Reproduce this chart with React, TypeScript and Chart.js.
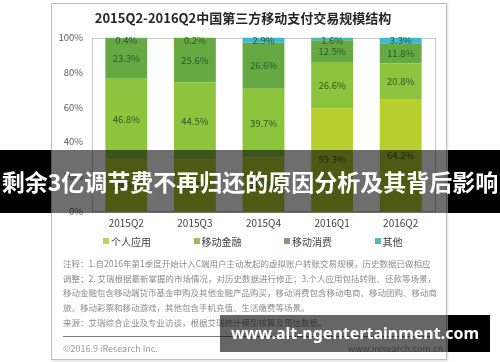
import React, { useEffect, useRef } from "react";
import { Chart, registerables } from "chart.js";

Chart.register(...registerables);

const title = "2015Q2-2016Q2中国第三方移动支付交易规模结构";
const categories = ["2015Q2", "2015Q3", "2015Q4", "2016Q1", "2016Q2"];
const seriesNames = ["个人应用", "移动金融", "移动消费", "其他"];
const personalApp = [29.5, 29.7, 30.8, 59.3, 64.2];
const mobileFinance = [46.8, 44.5, 39.7, 26.6, 20.8];
const mobileConsumption = [23.3, 25.6, 26.6, 12.5, 11.8];
const others = [0.4, 0.2, 2.9, 1.6, 3.3];
const yTicks = [0, 20, 40, 60, 80, 100];

const barColors = ["#b6cf2f", "#8cc43e", "#66a943", "#3fb8d6"];
const legendColors = ["#b7d062", "#9cbb5d", "#7f9d72", "#55b4c8"];
const LABEL_COLOR = "#2a5a2a";
const CJK = "'Noto Sans CJK SC', 'Noto Sans', sans-serif";

const notes = [
  "注释：1.自2016年第1季度开始计入C端用户主动发起的虚拟账户转账交易规模，历史数据已做相应",
  "调整；2. 艾瑞根据最新掌握的市场情况，对历史数据进行修正；3.个人应用包括转账、还款等场景，",
  "移动金融包含移动端货币基金申购及其他金融产品购买，移动消费包含移动电商、移动团购、移动商",
  "旅、移动彩票和移动游戏，其他包含手机充值、生活缴费等场景。",
  "来源：艾瑞综合企业及专业访谈，根据艾瑞统计模型核算及预估数据。",
];
const copyright = "©2016.9 iResearch Inc.";
const siteSmall = "www.iresearch.com.cn";
const bannerText = "剩余3亿调节费不再归还的原因分析及其背后影响";
const footerText = "www.alt-ngentertainment.com";

const framePlugin = {
  id: "frame",
  beforeDatasetsDraw(chart: any) {
    const { ctx, chartArea } = chart;
    ctx.save();
    ctx.strokeStyle = "#c8c8c8";
    ctx.lineWidth = 1;
    ctx.strokeRect(
      Math.round(chartArea.left) + 0.5,
      Math.round(chartArea.top) + 0.5,
      Math.round(chartArea.right - chartArea.left),
      Math.round(chartArea.bottom - chartArea.top)
    );
    ctx.restore();
  },
};

const valueLabels = {
  id: "valueLabels",
  afterDatasetsDraw(chart: any) {
    const { ctx, chartArea } = chart;
    ctx.save();
    ctx.font = `9.5px ${CJK}`;
    ctx.fillStyle = LABEL_COLOR;
    ctx.textAlign = "center";
    ctx.textBaseline = "middle";
    chart.data.datasets.forEach((ds: any, di: number) => {
      const meta = chart.getDatasetMeta(di);
      meta.data.forEach((bar: any, i: number) => {
        const v = ds.data[i] as number;
        const p = bar.getProps(["x", "y", "base"], true);
        let cy = (p.y + p.base) / 2;
        cy = Math.max(cy, chartArea.top + 3);
        ctx.fillText(v.toFixed(1) + "%", p.x, cy);
      });
    });
    ctx.restore();
  },
};

export default function App() {
  const ref = useRef<HTMLCanvasElement>(null);

  useEffect(() => {
    document.body.style.margin = "0";
    const seriesData = [personalApp, mobileFinance, mobileConsumption, others];
    const chart = new Chart(ref.current as HTMLCanvasElement, {
      type: "bar",
      data: {
        labels: categories,
        datasets: seriesNames.map((name, k) => ({
          label: name,
          data: seriesData[k],
          backgroundColor: barColors[k],
          borderWidth: 0,
          categoryPercentage: 1,
          barPercentage: 0.61,
        })),
      },
      options: {
        responsive: false,
        animation: false,
        layout: { padding: { left: 0, right: 12, top: 0, bottom: 0 } },
        plugins: {
          legend: { display: false },
          tooltip: { enabled: false },
          title: {
            display: true,
            text: title,
            color: "#262626",
            font: { family: CJK, size: 13, weight: "bold" },
            padding: { top: 7, bottom: 12 },
          },
        },
        scales: {
          x: {
            stacked: true,
            grid: { display: false, drawTicks: false },
            border: { display: false },
            ticks: { color: "#404040", font: { family: CJK, size: 10 }, padding: 6 },
            afterFit: (s: any) => {
              s.height = 24;
            },
          },
          y: {
            stacked: true,
            min: 0,
            max: 100,
            grid: { display: false, drawTicks: false },
            border: { display: false },
            afterBuildTicks: (s: any) => {
              s.ticks = yTicks.map((v) => ({ value: v }));
            },
            ticks: {
              color: "#595959",
              font: { family: CJK, size: 9.5 },
              padding: 9,
              callback: (v: any) => v + "%",
            },
            afterFit: (s: any) => {
              s.width = 41;
            },
          },
        },
      },
      plugins: [framePlugin, valueLabels],
    });
    return () => chart.destroy();
  }, []);

  const abs = (o: React.CSSProperties): React.CSSProperties => ({ position: "absolute", ...o });

  return (
    <div style={{ position: "fixed", left: 0, top: 0, width: 500, height: 362, background: "#fff", overflow: "hidden" }}>
      <div style={abs({ left: 51, top: 3, width: 394, height: 355, border: "1px solid #bdbdbd", boxShadow: "1px 1px 2px #ddd" })} />
      <canvas ref={ref} width={396} height={232} style={abs({ left: 51, top: 3, width: 396, height: 232 })} />
      {seriesNames.map((n, k) => (
        <div
          key={n}
          style={abs({
            left: 103 + k * 90.5,
            top: 234,
            height: 14,
            display: "flex",
            alignItems: "center",
            fontFamily: CJK,
            fontSize: 10,
            color: "#404040",
            whiteSpace: "nowrap",
          })}
        >
          <span style={{ display: "inline-block", width: 6, height: 6, background: legendColors[k], marginRight: 2 }} />
          {n}
        </div>
      ))}
      {notes.map((t, i) => (
        <div
          key={i}
          style={abs({
            left: 63,
            top: 256 + i * 14.7,
            height: 14,
            lineHeight: "14px",
            fontFamily: CJK,
            fontSize: 8.5,
            color: "#8a8a8a",
            whiteSpace: "nowrap",
          })}
        >
          {t}
        </div>
      ))}
      <div style={abs({ left: 63, top: 336, width: 370, height: 1, background: "#7a7a7a" })} />
      <div style={abs({ left: 63, top: 342, lineHeight: "14px", fontFamily: CJK, fontSize: 9, color: "#9a9a9a", whiteSpace: "nowrap" })}>
        {copyright}
      </div>
      <div style={abs({ left: 348, top: 342, lineHeight: "14px", fontFamily: CJK, fontSize: 9, color: "#9a9a9a", whiteSpace: "nowrap" })}>
        {siteSmall}
      </div>
      {/* banner overlay */}
      <div style={abs({ left: 0, top: 150, width: 51, height: 63, background: "#000" })} />
      <div style={abs({ left: 51, top: 150, width: 397, height: 63, background: "rgba(0,0,0,0.57)" })} />
      <div style={abs({ left: 448, top: 150, width: 52, height: 63, background: "#000" })} />
      <div
        style={abs({
          left: 0,
          top: 150,
          width: 500,
          height: 63,
          lineHeight: "63px",
          textAlign: "center",
          fontFamily: CJK,
          fontWeight: "bold",
          fontSize: 23,
          color: "#fff",
          whiteSpace: "nowrap",
        })}
      >
        {bannerText}
      </div>
      {/* footer overlay */}
      <div style={abs({ left: 220, top: 315, width: 228, height: 37, background: "rgba(0,0,0,0.6)" })} />
      <div style={abs({ left: 448, top: 315, width: 42, height: 37, background: "#000" })} />
      <div
        style={abs({
          left: 220,
          top: 315,
          width: 270,
          height: 37,
          lineHeight: "37px",
          textAlign: "center",
          fontFamily: "'Noto Sans', sans-serif",
          fontWeight: "bold",
          fontSize: 16,
          color: "#fff",
          whiteSpace: "nowrap",
        })}
      >
        {footerText}
      </div>
    </div>
  );
}
